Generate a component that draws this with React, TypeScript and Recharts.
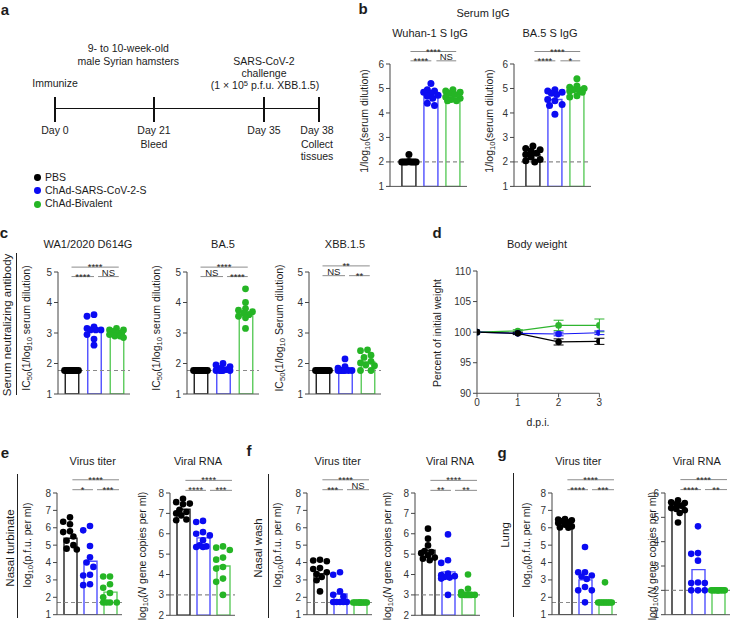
// @ts-nocheck
import React from "react"
import {
    ComposedChart,
    Bar,
    Cell,
    Scatter,
    XAxis,
    YAxis,
    ReferenceLine,
    LineChart,
    Line,
    ErrorBar
} from "recharts"

const FONT = '"Liberation Sans", Arial, Helvetica, sans-serif'
const DOT = ["#000000", "#0b0bf2", "#25b525"]
const EDGE = ["#1e1e1e", "#4f4fff", "#5ccb5c"]
const groups = ["PBS", "ChAd-SARS-CoV-2-S", "ChAd-Bivalent"]

// a: schematic
const timelineDays = ["Day 0", "Day 21", "Day 35", "Day 38"]
const timelineNotes = [[], ["Bleed"], [], ["Collect", "tissues"]]

// b: serum IgG (1/log10 serum dilution)
const wuhanBar = [2.03, 4.75, 4.7]
const wuhanPbs = [2.3, 2.02, 2.0, 2.0, 2.0, 2.0, 2.0, 2.0, 2.0, 2.0]
const wuhanS = [5.2, 4.95, 4.9, 4.85, 4.8, 4.72, 4.68, 4.6, 4.4, 4.3]
const wuhanBiv = [4.95, 4.9, 4.85, 4.8, 4.75, 4.65, 4.6, 4.55, 4.5, 4.5]

const ba5IgGBar = [2.3, 4.55, 4.98]
const ba5IgGPbs = [2.65, 2.55, 2.5, 2.45, 2.35, 2.3, 2.2, 2.1, 2.05, 2.0]
const ba5IgGS = [4.95, 4.9, 4.85, 4.8, 4.75, 4.55, 4.5, 4.35, 4.3, 3.95]
const ba5IgGBiv = [5.4, 5.1, 5.05, 5.0, 4.95, 4.95, 4.9, 4.85, 4.7, 4.65]

// c: neutralizing antibody IC50
const wa1Bar = [1.77, 3.15, 3.0]
const wa1Pbs = [1.77, 1.77, 1.77, 1.77, 1.77, 1.77, 1.77, 1.77, 1.77, 1.77]
const wa1S = [3.6, 3.55, 3.2, 3.15, 3.1, 3.1, 3.1, 2.95, 2.8, 2.6]
const wa1Biv = [3.15, 3.1, 3.1, 3.05, 3.0, 3.0, 2.95, 2.9, 2.9, 2.85]

const ba5NtBar = [1.77, 1.83, 3.7]
const ba5NtPbs = [1.77, 1.77, 1.77, 1.77, 1.77, 1.77, 1.77, 1.77, 1.77, 1.77]
const ba5NtS = [2.0, 1.95, 1.9, 1.85, 1.8, 1.77, 1.77, 1.77, 1.77, 1.77]
const ba5NtBiv = [4.45, 4.0, 3.8, 3.75, 3.7, 3.65, 3.6, 3.55, 3.5, 3.15]

const xbbBar = [1.77, 1.8, 2.05]
const xbbPbs = [1.77, 1.77, 1.77, 1.77, 1.77, 1.77, 1.77, 1.77, 1.77, 1.77]
const xbbS = [2.15, 1.9, 1.85, 1.77, 1.77, 1.77, 1.77, 1.77, 1.77, 1.77]
const xbbBiv = [2.45, 2.42, 2.27, 2.2, 2.07, 2.02, 1.95, 1.93, 1.77, 1.77]

// d: body weight
const dpi = [0, 1, 2, 3]
const weightPbs = [100, 99.8, 98.4, 98.5]
const weightPbsSem = [0, 0.2, 0.5, 0.5]
const weightS = [100, 99.8, 99.7, 99.9]
const weightSSem = [0, 0.1, 0.3, 0.3]
const weightBiv = [100, 100.2, 101.1, 101.1]
const weightBivSem = [0, 0.2, 0.85, 1.05]

// e: nasal turbinate
const ntTiterBar = [5.4, 4.07, 2.3]
const ntTiterPbs = [6.6, 6.35, 6.2, 5.8, 5.75, 5.5, 5.25, 5.0, 4.8, 4.75]
const ntTiterS = [6.1, 5.85, 4.95, 4.3, 4.0, 3.75, 3.3, 3.25, 2.75, 2.7]
const ntTiterBiv = [3.2, 3.2, 2.75, 2.55, 2.25, 2.0, 1.7, 1.7, 1.7, 1.7]
const ntRnaBar = [7.2, 5.8, 4.42]
const ntRnaPbs = [7.72, 7.55, 7.48, 7.45, 7.18, 7.07, 7.0, 6.9, 6.7, 6.66]
const ntRnaS = [6.63, 6.58, 6.08, 6.0, 5.92, 5.68, 5.43, 5.38, 5.35, 5.35]
const ntRnaBiv = [5.38, 5.32, 5.2, 4.83, 4.73, 4.37, 4.29, 3.8, 3.64, 3.0]

// f: nasal wash
const nwTiterBar = [3.36, 2.19, 1.7]
const nwTiterPbs = [4.16, 4.12, 4.07, 3.68, 3.63, 3.44, 3.34, 3.17, 2.98, 2.34]
const nwTiterS = [3.44, 3.3, 2.34, 2.15, 2.05, 1.73, 1.73, 1.73, 1.73, 1.73]
const nwTiterBiv = [1.7, 1.7, 1.7, 1.7, 1.7, 1.7, 1.7, 1.7, 1.7, 1.7]
const nwRnaBar = [5.19, 4.13, 3.1]
const nwRnaPbs = [6.25, 5.76, 5.43, 5.15, 5.1, 5.05, 4.94, 4.83, 4.78, 4.7]
const nwRnaS = [5.97, 4.7, 4.57, 4.05, 3.97, 3.92, 3.88, 3.85, 3.8, 3.0]
const nwRnaBiv = [4.0, 3.3, 3.14, 3.0, 3.0, 3.0, 3.0, 3.0, 3.0, 3.0]

// g: lung
const lungTiterBar = [6.25, 3.0, 1.7]
const lungTiterPbs = [6.5, 6.47, 6.43, 6.37, 6.31, 6.27, 6.18, 6.08, 6.02, 6.0]
const lungTiterS = [4.89, 3.44, 3.44, 3.25, 3.2, 3.05, 2.59, 2.4, 2.4, 1.71]
const lungTiterBiv = [2.86, 1.7, 1.7, 1.7, 1.7, 1.7, 1.7, 1.7, 1.7, 1.7]
const lungRnaBar = [5.45, 2.85, 2.0]
const lungRnaPbs = [5.7, 5.62, 5.59, 5.55, 5.48, 5.38, 5.34, 5.29, 5.18, 4.79]
const lungRnaS = [4.63, 3.53, 3.5, 3.22, 2.32, 2.3, 2.3, 2.0, 2.0, 2.0]
const lungRnaBiv = [2.0, 2.0, 2.0, 2.0, 2.0, 2.0, 2.0, 2.0, 2.0, 2.0]

// Prism-like scatter: push dots sideways when they'd overlap
const swarm = (vals, pxX, pxY, step, gap) => {
    const slots = [0, -1, 1, -2, 2, -0.5, 0.5, -1.5, 1.5].map(s => s * step)
    const placed = []
    const out = []
    vals.map((v, i) => ({ v, i }))
        .sort((a, b) => b.v - a.v)
        .forEach(({ v, i }) => {
            const py = v * pxY
            let best = 0
            let bestD = -1
            for (const s of slots) {
                let d = Infinity
                for (const p of placed) d = Math.min(d, Math.hypot(p.x - s, p.y - py))
                if (d >= gap) { best = s; break }
                if (d > bestD) { bestD = d; best = s }
            }
            placed.push({ x: best, y: py })
            out[i] = best / pxX
        })
    return out
}

const Sub = ({ children }) => (
    <span style={{ fontSize: "0.72em", position: "relative", top: "0.32em" }}>{children}</span>
)
const Sup = ({ children }) => (
    <span style={{ fontSize: "0.72em", position: "relative", top: "-0.45em" }}>{children}</span>
)

// centred text at page coords
const T = ({ x, y, size = 11, bold = false, rotate = false, children }) => (
    <div style={{ position: "absolute", left: x, top: y, width: 0, height: 0 }}>
        <div
            style={{
                position: "absolute",
                left: 0,
                top: 0,
                transform: `translate(-50%, -50%)${rotate ? " rotate(-90deg)" : ""}`,
                whiteSpace: "nowrap",
                fontSize: size,
                fontWeight: bold ? 700 : 400,
                lineHeight: 1.1
            }}
        >
            {children}
        </div>
    </div>
)

const VLine = ({ x, y1, y2 }) => (
    <div style={{ position: "absolute", left: x, top: y1, width: 1, height: y2 - y1, background: "#222" }} />
)

const TOP_ROW = { xDomain: [-0.86, 2.64], w: 77, barSize: 14, r: 3.5, step: 3.6, gap: 6.2, spans: [[0.07, 1.02], [1.25, 2.15], [0.07, 2.15]] }
const MID_ROW = { xDomain: [-0.6, 2.6], w: 72, barSize: 13.5, r: 3.4, step: 3.5, gap: 6.0, spans: [[0, 1.0], [1.18, 2.1], [0, 2.1]] }
const BOT_ROW = { xDomain: [-0.65, 2.6], w: 65, barSize: 13, r: 3.3, step: 3.4, gap: 6.0, spans: [[0.12, 1.15], [1.35, 2.45], [0.12, 2.45]] }

const range = (a, b) => Array.from({ length: b - a + 1 }, (_, i) => a + i)

const panels = [
    { ...TOP_ROW, left: 390, top: 64.3, h: 122.4, domain: [1, 6], bars: wuhanBar, sets: [wuhanPbs, wuhanS, wuhanBiv], lod: 2, marks: ["****", "NS", "****"], markY: [6.13, 6.51] },
    { ...TOP_ROW, left: 514, top: 64.3, h: 122.4, domain: [1, 6], bars: ba5IgGBar, sets: [ba5IgGPbs, ba5IgGS, ba5IgGBiv], lod: 2, marks: ["****", "*", "****"], markY: [6.13, 6.51] },
    { ...MID_ROW, left: 57.7, top: 271.5, h: 122, domain: [1, 5], bars: wa1Bar, sets: [wa1Pbs, wa1S, wa1Biv], lod: 1.77, marks: ["****", "NS", "****"], markY: [4.85, 5.16] },
    { ...MID_ROW, left: 187.3, top: 271.5, h: 122, domain: [1, 5], bars: ba5NtBar, sets: [ba5NtPbs, ba5NtS, ba5NtBiv], lod: 1.77, marks: ["NS", "****", "****"], markY: [4.85, 5.16] },
    { ...MID_ROW, left: 308.8, top: 271.5, h: 122, domain: [1, 5], bars: xbbBar, sets: [xbbPbs, xbbS, xbbBiv], lod: 1.77, marks: ["NS", "**", "**"], markY: [4.88, 5.2] },
    { ...BOT_ROW, left: 57, top: 493.3, h: 121.7, domain: [1, 8], bars: ntTiterBar, sets: [ntTiterPbs, ntTiterS, ntTiterBiv], lod: 1.7, marks: ["*", "***", "****"], markY: [8.19, 8.76] },
    { ...BOT_ROW, left: 170, top: 492.7, h: 122.3, domain: [2, 8], bars: ntRnaBar, sets: [ntRnaPbs, ntRnaS, ntRnaBiv], lod: 3, marks: ["****", "***", "****"], markY: [8.13, 8.62] },
    { ...BOT_ROW, left: 307, top: 493.3, h: 121.7, domain: [1, 8], bars: nwTiterBar, sets: [nwTiterPbs, nwTiterS, nwTiterBiv], lod: 1.7, marks: ["***", "NS", "****"], markY: [8.19, 8.76] },
    { ...BOT_ROW, left: 415.3, top: 492.7, h: 122.3, domain: [2, 8], bars: nwRnaBar, sets: [nwRnaPbs, nwRnaS, nwRnaBiv], lod: 3, marks: ["**", "**", "****"], markY: [8.13, 8.62] },
    { ...BOT_ROW, left: 552.3, top: 493.3, h: 121.7, domain: [1, 8], bars: lungTiterBar, sets: [lungTiterPbs, lungTiterS, lungTiterBiv], lod: 1.7, marks: ["****", "***", "****"], markY: [8.19, 8.76] },
    { ...BOT_ROW, left: 665, top: 493.3, h: 121.7, domain: [1, 6], bars: lungRnaBar, sets: [lungRnaPbs, lungRnaS, lungRnaBiv], lod: 2, marks: ["****", "**", "****"], markY: [6.14, 6.55] }
]

const BarDots = ({ p }) => {
    const { left, top, w, h, domain, xDomain, bars, sets, lod, marks, markY, spans, barSize, r, step, gap } = p
    const pxX = w / (xDomain[1] - xDomain[0])
    const pxY = h / (domain[1] - domain[0])
    const barData = bars.map((mean, i) => ({ x: i, mean }))
    const MT = 36
    const AX = 30
    const bracketY = [markY[0], markY[0], markY[1]]
    return (
        <div style={{ position: "absolute", left: left - AX, top: top - MT }}>
            <ComposedChart
                width={AX + w + 4}
                height={MT + h + 10}
                data={barData}
                margin={{ top: MT, right: 4, bottom: 2, left: 0 }}
            >
                <XAxis
                    dataKey="x"
                    type="number"
                    domain={xDomain}
                    ticks={[0, 1, 2]}
                    allowDataOverflow
                    tick={false}
                    tickSize={4}
                    height={8}
                    axisLine={{ stroke: "#555" }}
                    tickLine={{ stroke: "#555" }}
                />
                <XAxis xAxisId="pts" dataKey="x" type="number" domain={xDomain} allowDataOverflow hide />
                <YAxis
                    type="number"
                    domain={domain}
                    ticks={range(domain[0], domain[1])}
                    allowDataOverflow
                    interval={0}
                    width={AX}
                    tickSize={4}
                    tickMargin={2}
                    tick={{ fontSize: 10, fill: "#333", fontFamily: FONT }}
                    axisLine={{ stroke: "#444" }}
                    tickLine={{ stroke: "#444" }}
                />
                <ReferenceLine y={lod} stroke="#8a8a8a" strokeDasharray="4 3" strokeWidth={1.2} />
                <Bar dataKey="mean" barSize={barSize} fill="none" strokeWidth={1.4} isAnimationActive={false}>
                    {bars.map((_, i) => (
                        <Cell key={i} stroke={EDGE[i]} />
                    ))}
                </Bar>
                {sets.map((vals, g) => {
                    const off = swarm(vals, pxX, pxY, step, gap)
                    const pts = vals.map((y, k) => ({ x: g + off[k], y }))
                    return (
                        <Scatter
                            key={groups[g]}
                            name={groups[g]}
                            xAxisId="pts"
                            data={pts}
                            dataKey="y"
                            isAnimationActive={false}
                            shape={s => <circle cx={s.cx} cy={s.cy} r={r} fill={DOT[g]} />}
                        />
                    )
                })}
                {marks.map((m, i) => (
                    <ReferenceLine
                        key={i}
                        ifOverflow="visible"
                        segment={[
                            { x: spans[i][0], y: bracketY[i] },
                            { x: spans[i][1], y: bracketY[i] }
                        ]}
                        stroke="#8c8c8c"
                        strokeWidth={1}
                        label={{
                            value: m,
                            position: "top",
                            offset: m === "NS" ? 0.5 : -3,
                            fontSize: m === "NS" ? 9.5 : 9.5,
                            fill: "#222",
                            fontFamily: FONT
                        }}
                    />
                ))}
            </ComposedChart>
        </div>
    )
}

const weightData = dpi.map((d, i) => ({
    d,
    pbs: weightPbs[i],
    pbsSem: weightPbsSem[i],
    s: weightS[i],
    sSem: weightSSem[i],
    biv: weightBiv[i],
    bivSem: weightBivSem[i]
}))

const weightSeries = [
    { key: "biv", color: "#2fb52f" },
    { key: "s", color: "#1414f5" },
    { key: "pbs", color: "#000000" }
]

const BodyWeight = () => (
    <div style={{ position: "absolute", left: 476.6 - 30, top: 270.7 - 10 }}>
        <LineChart width={30 + 122.4 + 10} height={10 + 122.3 + 22} data={weightData} margin={{ top: 10, right: 10, bottom: 2, left: 0 }}>
            <XAxis
                dataKey="d"
                type="number"
                domain={[0, 3]}
                ticks={dpi}
                allowDataOverflow
                height={20}
                tickSize={4}
                tickMargin={2}
                tick={{ fontSize: 10, fill: "#333", fontFamily: FONT }}
                axisLine={{ stroke: "#555" }}
                tickLine={{ stroke: "#555" }}
            />
            <YAxis
                type="number"
                domain={[90, 110]}
                ticks={[90, 95, 100, 105, 110]}
                allowDataOverflow
                interval={0}
                width={30}
                tickSize={4}
                tickMargin={2}
                tick={{ fontSize: 10, fill: "#333", fontFamily: FONT }}
                axisLine={{ stroke: "#444" }}
                tickLine={{ stroke: "#444" }}
            />
            {weightSeries.map(s => (
                <Line
                    key={s.key}
                    dataKey={s.key}
                    type="linear"
                    stroke={s.color}
                    strokeWidth={1.2}
                    dot={{ r: 3.3, fill: s.color, stroke: s.color, strokeWidth: 0 }}
                    isAnimationActive={false}
                >
                    <ErrorBar dataKey={s.key + "Sem"} width={5} stroke={s.color} strokeWidth={1} direction="y" />
                </Line>
            ))}
        </LineChart>
    </div>
)

const timelineX = [55, 154, 264, 319]

const App = () => {
    const igg = <>1/log<Sub>10</Sub>(serum dilution)</>
    const ic50 = word => <>IC<Sub>50</Sub>(1/log<Sub>10</Sub> {word} dilution)</>
    const titer = <>log<Sub>10</Sub>(p.f.u. per ml)</>
    const rna = <>log<Sub>10</Sub>(<i>N</i> gene copies per ml)</>
    return (
        <div
            style={{
                position: "absolute",
                left: 0,
                top: 0,
                width: 731,
                height: 624,
                overflow: "hidden",
                background: "#fff",
                fontFamily: FONT,
                color: "#1c1c1c"
            }}
        >
            {/* panel letters */}
            <T x={5} y={10} size={15} bold>a</T>
            <T x={363} y={9} size={15} bold>b</T>
            <T x={4} y={233} size={15} bold>c</T>
            <T x={437} y={233} size={15} bold>d</T>
            <T x={5} y={453} size={15} bold>e</T>
            <T x={249} y={451} size={15} bold>f</T>
            <T x={502} y={453} size={15} bold>g</T>

            {/* a: schematic timeline */}
            <div style={{ position: "absolute", left: timelineX[0], top: 107.7, width: timelineX[3] - timelineX[0], height: 1.4, background: "#111" }} />
            {timelineX.map(x => (
                <div key={x} style={{ position: "absolute", left: x - 0.6, top: 96.7, width: 1.3, height: 25, background: "#111" }} />
            ))}
            <T x={128.3} y={49} size={10.5}>9- to 10-week-old</T>
            <T x={128.3} y={62.3} size={10.5}>male Syrian hamsters</T>
            <T x={55} y={84} size={10.5}>Immunize</T>
            <T x={264} y={61.7} size={10.5}>SARS-CoV-2</T>
            <T x={264} y={73.5} size={10.5}>challenge</T>
            <T x={265} y={86} size={10.5}>(1 × 10<Sup>5</Sup> p.f.u. XBB.1.5)</T>
            {timelineDays.map((d, i) => (
                <React.Fragment key={d}>
                    <T x={timelineX[i] + (i === 3 ? -2 : 0)} y={131} size={10.5}>{d}</T>
                    {timelineNotes[i].map((n, j) => (
                        <T key={n} x={timelineX[i] + (i === 3 ? -2 : 0)} y={144.5 + j * 12.5} size={10.5}>{n}</T>
                    ))}
                </React.Fragment>
            ))}

            {/* legend */}
            {groups.map((g, i) => (
                <React.Fragment key={g}>
                    <div style={{ position: "absolute", left: 34.3, top: 174 + i * 13.4, width: 6.8, height: 6.8, borderRadius: "50%", background: DOT[i] }} />
                    <div style={{ position: "absolute", left: 45, top: 170.5 + i * 13.4, fontSize: 10.5, lineHeight: "13px", whiteSpace: "nowrap" }}>{g}</div>
                </React.Fragment>
            ))}

            {/* b */}
            <T x={483} y={13} size={11}>Serum IgG</T>
            <T x={430} y={33} size={11}>Wuhan-1 S IgG</T>
            <T x={550} y={33} size={11}>BA.5 S IgG</T>
            <T x={365} y={121} size={10.5} rotate>{igg}</T>
            <T x={490} y={121} size={10.5} rotate>{igg}</T>

            {/* c */}
            <T x={88} y={244} size={11}>WA1/2020 D614G</T>
            <T x={223} y={244} size={11}>BA.5</T>
            <T x={345} y={244} size={11}>XBB.1.5</T>
            <T x={6.5} y={325} size={11.5} rotate>Serum neutralizing antibody</T>
            <VLine x={16} y1={253} y2={395} />
            <T x={27} y={328} size={10.5} rotate>{ic50("serum")}</T>
            <T x={157} y={328} size={10.5} rotate>{ic50("serum")}</T>
            <T x={280} y={328} size={10.5} rotate>{ic50("Serum")}</T>

            {/* d */}
            <T x={537} y={244} size={11}>Body weight</T>
            <T x={438} y={333} size={10.5} rotate>Percent of initial weight</T>
            <T x={538} y={423} size={10.5}>d.p.i.</T>

            {/* e, f, g */}
            <T x={92.7} y={461} size={11}>Virus titer</T>
            <T x={198} y={461} size={11}>Viral RNA</T>
            <T x={337.7} y={461} size={11}>Virus titer</T>
            <T x={450} y={461} size={11}>Viral RNA</T>
            <T x={578.3} y={461} size={11}>Virus titer</T>
            <T x={696.7} y={461} size={11}>Viral RNA</T>

            <T x={9.5} y={548} size={11.5} rotate>Nasal turbinate</T>
            <VLine x={16.7} y1={474} y2={618} />
            <T x={258.3} y={548} size={11.5} rotate>Nasal wash</T>
            <VLine x={267.7} y1={474} y2={618} />
            <T x={505} y={535} size={11.5} rotate>Lung</T>
            <VLine x={513.3} y1={473} y2={617} />

            <T x={28} y={545} size={10.5} rotate>{titer}</T>
            <T x={143.3} y={556} size={10.5} rotate>{rna}</T>
            <T x={278} y={545} size={10.5} rotate>{titer}</T>
            <T x={388.3} y={556} size={10.5} rotate>{rna}</T>
            <T x={526.7} y={545} size={10.5} rotate>{titer}</T>
            <T x={653.3} y={556} size={10.5} rotate>{rna}</T>

            {panels.map((p, i) => (
                <BarDots key={i} p={p} />
            ))}
            <BodyWeight />
        </div>
    )
}

export default App
